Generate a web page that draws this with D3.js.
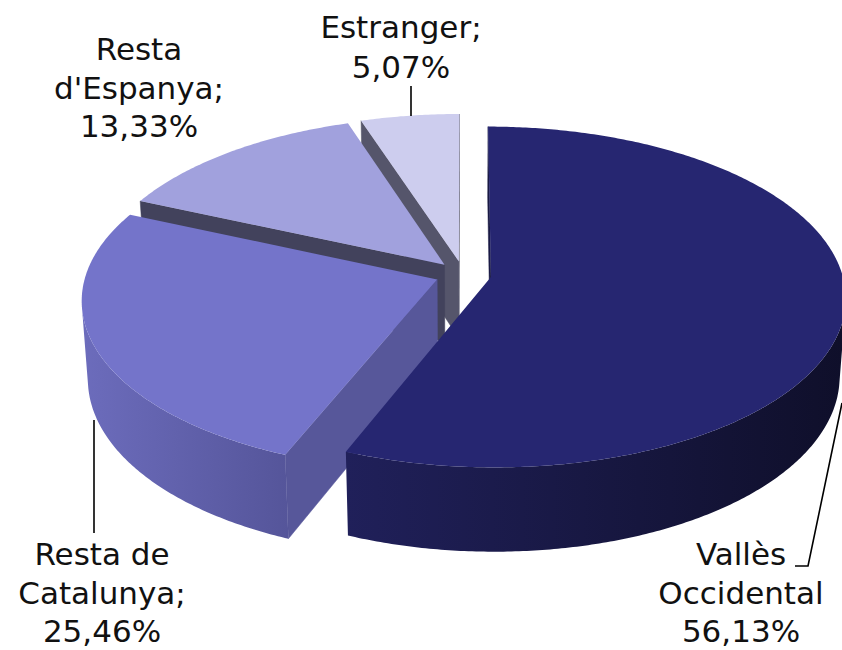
<!DOCTYPE html>
<html>
<head>
<meta charset="utf-8">
<script src="https://cdn.jsdelivr.net/npm/d3@7"></script>
<style>
  body { margin: 0; background: #fff; }
  svg { display: block; }
</style>
</head>
<body>
<div id="chart"></div>
<script>
// data
const categories = ["Vallès Occidental", "Resta de Catalunya", "Resta d'Espanya", "Estranger"];
const values = [56.13, 25.46, 13.33, 5.07];
const labelNames = [["Vallès", "Occidental"], ["Resta de", "Catalunya;"], ["Resta", "d'Espanya;"], ["Estranger;"]];

// styles
const topColors = ["#262671", "#7474ca", "#a1a1dd", "#cdcdee"];
const sideColors = [["#20205a", "#0f0f2a"], ["#6c6cbc", "#55559a"], ["#8080b0", "#6a6a99"], ["#9a9ac0", "#8080a8"]];
const radialColors = ["#1a1a45", "#57579a", "#42425c", "#55556b"];

// label layout (centre x, first baseline, line step) and leader polylines
const labelPos = [
  {x: 741, y: 565, dy: 38.5},
  {x: 102, y: 565, dy: 38.5},
  {x: 139, y: 60, dy: 38.5},
  {x: 401, y: 38, dy: 40}
];
const leaders = [
  [[795, 566], [808, 566], [842, 403]],
  [[94, 533], [94, 420]],
  [],
  [[411, 86], [411, 116]]
];

const width = 842, height = 650;
const view = {ox: 463.3, oy: 274.5, f: 2646, D: 7.53, sin: 0.4766, cos: 0.8791};
const depth = 0.255, explode = 0.08;
const camera = [0, view.D * view.sin, -view.D * view.cos];

function project([X, Y, Z]) {
  const d = view.D + Z * view.cos - Y * view.sin;
  return [view.ox + view.f * X / d, view.oy - view.f * (Z * view.sin + Y * view.cos) / d];
}

function visible(normal, p) {
  return normal[0] * (camera[0] - p[0]) + normal[1] * (camera[1] - p[1]) + normal[2] * (camera[2] - p[2]) > 0;
}

const svg = d3.select("#chart").append("svg")
  .attr("width", width)
  .attr("height", height);

const defs = svg.append("defs");
const line = d3.line();

const arcs = d3.pie().sort(null).value(d => d)(values);

// draw back slices first
const order = [3, 2, 1, 0];

order.forEach(i => {
  const a = arcs[i];
  const mid = (a.startAngle + a.endAngle) / 2;
  const c = [explode * Math.sin(mid), 0, explode * Math.cos(mid)];
  const rim = (t, y) => [c[0] + Math.sin(t), y, c[2] + Math.cos(t)];
  const g = svg.append("g").attr("class", "slice");

  // radial faces
  [[a.startAngle, -1], [a.endAngle, 1]].forEach(([t, sgn]) => {
    const n = [sgn * Math.cos(t), 0, -sgn * Math.sin(t)];
    if (!visible(n, c)) return;
    const pts = [c, rim(t, 0), rim(t, -depth), [c[0], -depth, c[2]]].map(project);
    g.append("path")
      .attr("d", line(pts) + "Z")
      .attr("fill", radialColors[i])
      .attr("stroke", radialColors[i])
      .attr("stroke-width", 0.5);
  });

  // outer side, front facing segments only
  const steps = Math.max(8, Math.ceil((a.endAngle - a.startAngle) / 0.01));
  const ts = d3.range(steps + 1).map(k => a.startAngle + (a.endAngle - a.startAngle) * k / steps);
  const segs = [];
  for (let k = 0; k < steps; k++) {
    const tm = (ts[k] + ts[k + 1]) / 2;
    if (visible([Math.sin(tm), 0, Math.cos(tm)], rim(tm, 0))) segs.push(k);
  }
  if (segs.length) {
    const lo = segs[0], hi = segs[segs.length - 1] + 1;
    const topPts = d3.range(lo, hi + 1).map(k => project(rim(ts[k], 0)));
    const botPts = d3.range(hi, lo - 1, -1).map(k => project(rim(ts[k], -depth)));
    const all = topPts.concat(botPts);
    const xs = d3.extent(all, p => p[0]);
    const gid = "side" + i;
    const grad = defs.append("linearGradient")
      .attr("id", gid)
      .attr("gradientUnits", "userSpaceOnUse")
      .attr("x1", xs[0]).attr("x2", xs[1]).attr("y1", 0).attr("y2", 0);
    grad.append("stop").attr("offset", "0%").attr("stop-color", sideColors[i][0]);
    grad.append("stop").attr("offset", "100%").attr("stop-color", sideColors[i][1]);
    g.append("path")
      .attr("d", line(all) + "Z")
      .attr("fill", `url(#${gid})`);
  }

  // top face
  const topFace = [project(c)].concat(ts.map(t => project(rim(t, 0))));
  g.append("path")
    .attr("d", line(topFace) + "Z")
    .attr("fill", topColors[i]);
});

// leader lines
leaders.forEach(pts => {
  if (!pts.length) return;
  svg.append("path")
    .attr("d", line(pts))
    .attr("fill", "none")
    .attr("stroke", "#000")
    .attr("stroke-width", 1.6);
});

// labels
const fmt = v => d3.format(".2f")(v).replace(".", ",") + "%";
categories.forEach((cat, i) => {
  const lines = labelNames[i].concat([fmt(values[i])]);
  const t = svg.append("text")
    .attr("text-anchor", "middle")
    .attr("font-family", "'DejaVu Sans', Verdana, sans-serif")
    .attr("font-size", 31)
    .attr("fill", "#111");
  lines.forEach((s, k) => {
    t.append("tspan")
      .attr("x", labelPos[i].x)
      .attr("y", labelPos[i].y + k * labelPos[i].dy)
      .text(s);
  });
});
</script>
</body>
</html>
